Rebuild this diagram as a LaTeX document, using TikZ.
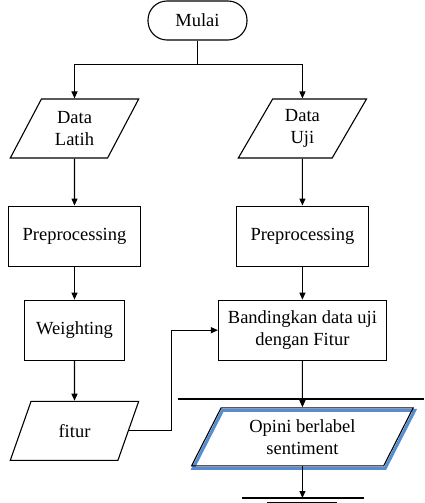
\documentclass[tikz,border=0pt]{standalone}
\usepackage{fontspec}
\setmainfont{Liberation Serif}
\usetikzlibrary{matrix, arrows.meta, shapes.geometric}
\definecolor{glowblue}{RGB}{84,141,212}

\begin{document}
\begin{tikzpicture} [x = 1pt, y = 1pt, line width = 1.1pt,
  font = \rmfamily\fontsize{18.5}{22}\selectfont,
  io/.style = {draw, trapezium, trapezium left angle = 62, trapezium right angle = 118,
    trapezium stretches = true, minimum width = 129pt, minimum height = 59pt, align = center, inner sep = 1pt},
  proc/.style = {draw, rectangle, minimum height = 60pt, align = center},
  term/.style = {draw, rectangle, rounded corners = 19pt, minimum width = 99pt, minimum height = 39pt},
  arr/.style = {-{Triangle[length = 7pt, width = 6pt]}}]
\useasboundingbox (0,0) rectangle (424,-503);
\node[term](mulai) at (197.5,-20.5){Mulai};
\matrix (m) [matrix of nodes, nodes = {anchor = center}, column sep = 50pt, row sep = 0pt,
  matrix anchor = latih.center] at (74.5,-128.5){
  \node[io](latih){Data\\Latih}; & \node[io](uji){Data\\Uji}; \\[47pt]
  \node[proc, minimum width = 132pt](pre1){Preprocessing}; & \node[proc, minimum width = 132pt](pre2){Preprocessing}; \\[33pt]
  \node[proc, minimum width = 100pt](bobot){Weighting}; & \node[proc, minimum width = 168pt](banding){Bandingkan data uji\\dengan Fitur}; \\[40pt]
  \node[io](fitur){fitur}; & \node[io, minimum width = 222pt, minimum height = 58pt, yshift = -6pt,
    preaction = {draw = glowblue, line width = 3pt, transform canvas = {xshift = 1.5pt, yshift = -2.5pt}}](opini){Opini berlabel\\sentiment}; \\
};
\draw[arr] (mulai.south) -- ++(0,-24) -| (latih.north);
\draw[arr] (mulai.south) ++(0,-24) -| (uji.north);
\draw[arr] (latih.south) -- (pre1.north);
\draw[arr] (pre1.south) -- (bobot.north);
\draw[arr] (bobot.south) -- (fitur.north);
\draw[arr] (uji.south) -- (pre2.north);
\draw[arr] (pre2.south) -- (banding.north);
\draw[arr] (fitur.east) -- ++(43,0) |- (banding.west);
\draw (178,-399) -- (424,-399);
\draw[arr] (banding.south) -- (opini.north);
\coordinate (lanjut) at (opini.south |- 0,-498);
\draw[arr] (opini.south) -- (lanjut);
\draw (242,-498) -- (364,-498);
\draw[line width = 2pt] (267,-502.5) -- (337,-502.5);
\end{tikzpicture}
\end{document}
